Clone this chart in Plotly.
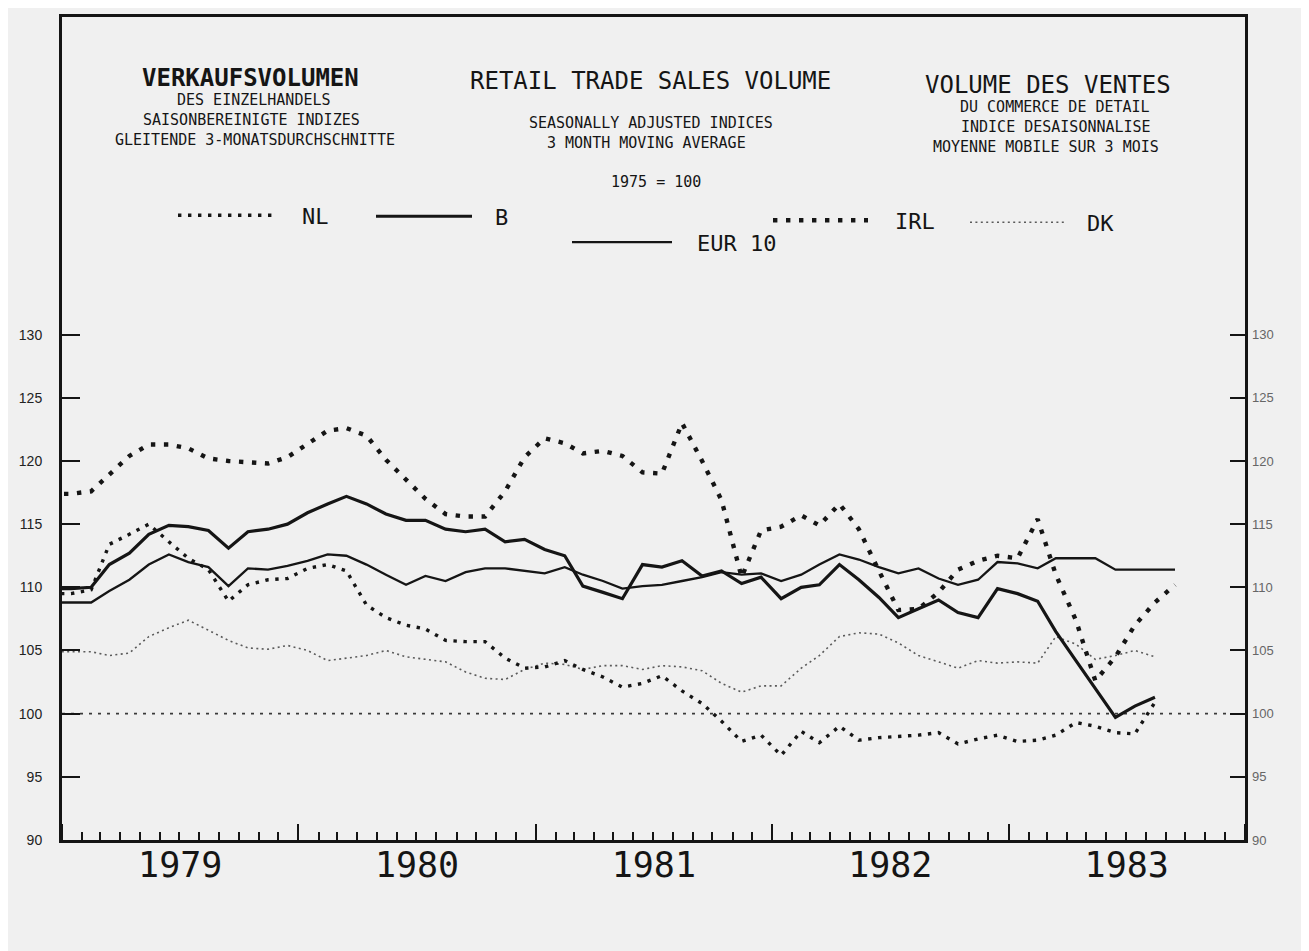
import plotly.graph_objects as go

# ---------------- data (monthly, 3-month moving averages, 1975 = 100) ----------------
# first entry is Dec 1978 (clipped at the axis), then Jan 1979 onwards
MONTHS = [f"{1978 + (i + 11) // 12}-{(i + 11) % 12 + 1:02d}-15" for i in range(58)]

NL = [109.5, 109.5, 109.8, 113.4, 114.2, 115.0, 113.6, 112.3, 111.4, 108.9, 110.2, 110.6, 110.7,
      111.5, 111.8, 111.3, 108.6, 107.6, 107.0, 106.7, 105.8, 105.7, 105.7, 104.4, 103.6,
      103.7, 104.2, 103.5, 102.9, 102.1, 102.4, 103.0, 101.8, 100.8, 99.4, 97.8, 98.3,
      96.7, 98.6, 97.7, 99.0, 97.9, 98.1, 98.2, 98.3, 98.5, 97.6, 98.0, 98.3,
      97.8, 97.9, 98.3, 99.3, 99.0, 98.5, 98.4, 100.9]

B = [109.9, 109.9, 110.0, 111.8, 112.7, 114.2, 114.9, 114.8, 114.5, 113.1, 114.4, 114.6, 115.0,
     115.9, 116.6, 117.2, 116.6, 115.8, 115.3, 115.3, 114.6, 114.4, 114.6, 113.6, 113.8,
     113.0, 112.5, 110.1, 109.6, 109.1, 111.8, 111.6, 112.1, 110.9, 111.3, 110.3, 110.8,
     109.1, 110.0, 110.2, 111.8, 110.6, 109.2, 107.6, 108.3, 109.0, 108.0, 107.6, 109.9,
     109.5, 108.9, 106.5, 104.2, 102.0, 99.7, 100.6, 101.3]

IRL = [117.4, 117.4, 117.6, 118.9, 120.4, 121.3, 121.3, 121.0, 120.2, 120.0, 119.9, 119.8, 120.3,
       121.3, 122.4, 122.6, 122.0, 120.1, 118.5, 117.0, 115.8, 115.6, 115.6, 117.6, 120.3,
       121.8, 121.4, 120.6, 120.8, 120.4, 119.1, 119.0, 123.0, 120.0, 116.9, 110.8, 114.5,
       114.8, 115.7, 114.9, 116.6, 114.6, 111.3, 108.2, 108.3, 109.6, 111.4, 112.1, 112.5,
       112.3, 115.4, 111.0, 107.4, 102.6, 104.5, 107.0, 108.8, 110.2]

DK = [104.9, 104.9, 104.9, 104.6, 104.8, 106.1, 106.8, 107.4, 106.6, 105.8, 105.2, 105.1, 105.4,
      105.0, 104.2, 104.4, 104.6, 105.0, 104.5, 104.3, 104.1, 103.3, 102.8, 102.7, 103.5,
      104.0, 103.9, 103.5, 103.8, 103.8, 103.5, 103.8, 103.7, 103.4, 102.4, 101.7, 102.2,
      102.2, 103.6, 104.6, 106.1, 106.4, 106.3, 105.6, 104.6, 104.1, 103.6, 104.2, 104.0,
      104.1, 104.0, 106.1, 105.5, 104.3, 104.6, 105.0, 104.5]

EUR10 = [108.8, 108.8, 108.8, 109.7, 110.6, 111.8, 112.6, 112.0, 111.6, 110.1, 111.5, 111.4, 111.7,
         112.1, 112.6, 112.5, 111.8, 111.0, 110.2, 110.9, 110.5, 111.2, 111.5, 111.5, 111.3,
         111.1, 111.6, 111.0, 110.5, 109.9, 110.1, 110.2, 110.5, 110.8, 111.2, 111.0, 111.1,
         110.5, 111.0, 111.8, 112.6, 112.2, 111.6, 111.1, 111.5, 110.7, 110.2, 110.6, 112.0,
         111.9, 111.5, 112.3, 112.3, 112.3, 111.4, 111.4, 111.4, 111.4]

SERIES_NAMES = ["DK", "NL", "IRL", "EUR 10", "B"]
SERIES_VALUES = [DK, NL, IRL, EUR10, B]
BASE_INDEX = 100
Y_TICKS = [90, 95, 100, 105, 110, 115, 120, 125, 130]
X_RANGE = ["1979-01-01", "1984-01-01"]

# ---------------- geometry / styles ----------------
PAGE_OFFSET = 8                      # default body margin of the html page
W, H = 1309 - PAGE_OFFSET, 951 - PAGE_OFFSET
PLOT_L, PLOT_R, PLOT_T, PLOT_B = 62, 1245, 14, 840   # plot area in page pixels
ML = PLOT_L - PAGE_OFFSET
MT = PLOT_T - PAGE_OFFSET
MR = PAGE_OFFSET + W - PLOT_R
MB = PAGE_OFFSET + H - PLOT_B
PW, PH = PLOT_R - PLOT_L, PLOT_B - PLOT_T
PX_PER_UNIT = 12.68
Y_MAX = 90 + PH / PX_PER_UNIT

MONO = "DejaVu Sans Mono, Liberation Mono, monospace"
SANS = "Liberation Sans, Arial, sans-serif"
INK = "#151515"


def fx(x):
    return (x - PLOT_L) / PW


def fy(y):
    return (PLOT_B - y) / PH


STYLES = {
    "NL": dict(color=INK, width=3.4, dash="3.4px,6.6px"),
    "B": dict(color=INK, width=3.2, dash="solid"),
    "IRL": dict(color=INK, width=4.4, dash="4.4px,8.6px"),
    "DK": dict(color="#5a5a5a", width=1.6, dash="2px,3.4px"),
    "EUR 10": dict(color=INK, width=2.3, dash="solid"),
}

fig = go.Figure()
for name, vals in zip(SERIES_NAMES, SERIES_VALUES):
    fig.add_trace(go.Scatter(x=MONTHS[:len(vals)], y=vals, mode="lines", name=name,
                             line=STYLES[name], showlegend=False, hoverinfo="x+y+name"))

# invisible trace on the right-hand axis so it is drawn
fig.add_trace(go.Scatter(x=MONTHS[:1], y=[BASE_INDEX], yaxis="y2", mode="markers",
                         marker=dict(opacity=0), showlegend=False, hoverinfo="skip"))

# 1975 = 100 reference line
fig.add_shape(type="line", xref="paper", yref="y", x0=0, x1=0.985, y0=BASE_INDEX, y1=BASE_INDEX,
              line=dict(color="#3a3a3a", width=1.6, dash="3px,6px"), layer="below")

# ---------------- titles ----------------
TITLES = [
    ("VERKAUFSVOLUMEN", 250, 75, 24, True),
    ("DES EINZELHANDELS", 254, 97, 15, False),
    ("SAISONBEREINIGTE INDIZES", 251, 117, 15, False),
    ("GLEITENDE 3-MONATSDURCHSCHNITTE", 255, 137, 15, False),
    ("RETAIL TRADE SALES VOLUME", 650, 78, 24, False),
    ("SEASONALLY ADJUSTED INDICES", 651, 120, 15, False),
    ("3 MONTH MOVING AVERAGE", 646, 140, 15, False),
    ("1975 = 100", 656, 180, 15, False),
    ("VOLUME DES VENTES", 1048, 82, 24, False),
    ("DU COMMERCE DE DETAIL", 1055, 104, 15, False),
    ("INDICE DESAISONNALISE", 1056, 124, 15, False),
    ("MOYENNE MOBILE SUR 3 MOIS", 1046, 144, 15, False),
]
for text, x, y, size, bold in TITLES:
    fig.add_annotation(text=f"<b>{text}</b>" if bold else text, xref="paper", yref="paper",
                       x=fx(x), y=fy(y), xanchor="center", yanchor="middle", showarrow=False,
                       font=dict(family=MONO, size=size, color=INK))

# ---------------- legend (hand placed) ----------------
LEGEND = [
    ("NL", 178, 278, 213, 300),
    ("B", 376, 472, 214, 493),
    ("IRL", 773, 868, 218, 893),
    ("DK", 970, 1065, 220, 1085),
    ("EUR 10", 572, 672, 240, 695),
]
for name, x0, x1, y, xt in LEGEND:
    fig.add_shape(type="line", xref="paper", yref="paper", x0=fx(x0), x1=fx(x1), y0=fy(y), y1=fy(y),
                  line=STYLES[name])
    fig.add_annotation(text=name, xref="paper", yref="paper", x=fx(xt), y=fy(y + 1),
                       xanchor="left", yanchor="middle", showarrow=False,
                       font=dict(family=MONO, size=22, color=INK))

fig.update_layout(
    width=W, height=H,
    margin=dict(l=ML, r=MR, t=MT, b=MB),
    paper_bgcolor="#f0f0f0", plot_bgcolor="#f0f0f0",
    xaxis=dict(type="date", range=X_RANGE, dtick="M12", tick0="1979-01-01",
               ticklabelmode="period", tickformat="%Y", ticks="inside", ticklen=16, tickwidth=2,
               tickcolor=INK, showline=True, linewidth=2.5, linecolor=INK, mirror=True,
               showgrid=False, zeroline=False, ticklabelstandoff=-8,
               tickfont=dict(family=MONO, size=35, color=INK),
               minor=dict(dtick="M1", ticks="inside", ticklen=8, tickwidth=1.5, tickcolor=INK,
                          showgrid=False)),
    yaxis=dict(range=[90, Y_MAX], tickvals=Y_TICKS, ticks="inside", ticklen=18, tickwidth=2,
               tickcolor=INK, showline=True, linewidth=3, linecolor=INK, mirror=True,
               showgrid=False, zeroline=False, ticklabelstandoff=14,
               tickfont=dict(family=SANS, size=14, color="#222")),
    yaxis2=dict(range=[90, Y_MAX], overlaying="y", side="right", tickvals=Y_TICKS,
                ticks="inside", ticklen=15, tickwidth=2, tickcolor=INK, showline=False,
                showgrid=False, zeroline=False, ticklabelstandoff=6,
                tickfont=dict(family=SANS, size=13, color="#666")),
)

fig.write_html("out.html")
